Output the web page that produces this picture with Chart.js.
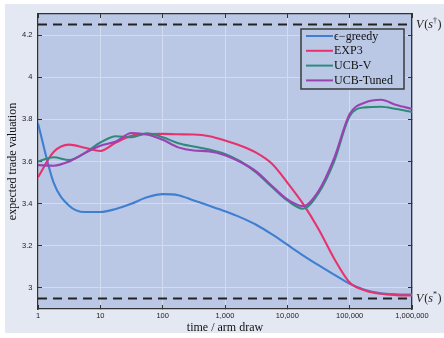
<!DOCTYPE html>
<html><head><meta charset="utf-8">
<script src="https://cdn.jsdelivr.net/npm/chart.js@4/dist/chart.umd.min.js"></script>
<style>html,body{margin:0;padding:0;background:#ffffff;overflow:hidden}#wrap{width:444px;height:338px}</style>
</head><body><div id="wrap"><canvas id="c" width="444" height="338"></canvas></div>
<script>
// ---- data ----
const drawTimes = [1, 1.78, 3.16, 5.62, 10, 17.8, 31.6, 56.2, 100, 178, 316, 562, 1000, 1778, 3162, 5623, 10000, 17783, 31623, 56234, 100000, 177828, 316228, 562341, 1000000];
const epsGreedy = [3.78, 3.50, 3.39, 3.36, 3.36, 3.375, 3.40, 3.43, 3.445, 3.44, 3.415, 3.39, 3.364, 3.335, 3.30, 3.255, 3.205, 3.155, 3.108, 3.063, 3.02, 2.99, 2.975, 2.97, 2.968];
const exp3      = [3.525, 3.645, 3.68, 3.665, 3.65, 3.69, 3.722, 3.73, 3.731, 3.729, 3.728, 3.72, 3.70, 3.675, 3.642, 3.59, 3.50, 3.40, 3.28, 3.14, 3.026, 2.988, 2.972, 2.966, 2.964];
const ucbV      = [3.60, 3.62, 3.607, 3.64, 3.69, 3.72, 3.715, 3.734, 3.715, 3.687, 3.671, 3.657, 3.636, 3.60, 3.548, 3.48, 3.415, 3.376, 3.45, 3.60, 3.815, 3.857, 3.86, 3.849, 3.835];
const ucbTuned  = [3.583, 3.58, 3.60, 3.64, 3.675, 3.695, 3.735, 3.728, 3.703, 3.667, 3.652, 3.648, 3.63, 3.597, 3.553, 3.485, 3.42, 3.388, 3.46, 3.615, 3.825, 3.88, 3.893, 3.868, 3.85];
const seriesNames = ['\u03F5\u2212greedy', 'EXP3', 'UCB-V', 'UCB-Tuned'];
const vDagger = 4.25;   // V(s†)
const vStar = 2.95;     // V(s*)
const xTicks = [1, 10, 100, 1000, 10000, 100000, 1000000];
const xTickLabels = ['1', '10', '100', '1,000', '10,000', '100,000', '1,000,000'];
const yTicks = [3, 3.2, 3.4, 3.6, 3.8, 4, 4.2];
const yTickLabels = ['3', '3.2', '3.4', '3.6', '3.8', '4', '4.2'];
const xTitle = 'time / arm draw';
const yTitle = 'expected trade valuation';

// ---- style ----
const colors = ['#3f7fd2', '#e6336e', '#2f8a7c', '#9b41b2'];
const panelBg = '#e3e8f3';
const plotBg = '#bac8e6';
const gridCol = '#d3dbee';
const axisCol = '#333333';
const serif = '"Liberation Serif", "Times New Roman", serif';
const sans = '"Liberation Sans", Arial, sans-serif';

const toPts = arr => arr.map((y, i) => ({x: drawTimes[i], y}));
const series = [epsGreedy, exp3, ucbV, ucbTuned];
const datasets = series.map((s, i) => ({
  label: seriesNames[i], data: toPts(s), borderColor: colors[i], backgroundColor: colors[i],
  borderWidth: 2.1, pointRadius: 0, cubicInterpolationMode: 'monotone', fill: false, order: 4 - i
}));
[vDagger, vStar].forEach(v => datasets.push({
  label: 'ref', data: [{x: xTicks[0], y: v}, {x: xTicks[xTicks.length - 1], y: v}],
  borderColor: '#222', borderWidth: 2, borderDash: [9, 6], pointRadius: 0, fill: false, order: 10
}));

const decor = {
  id: 'decor',
  beforeDraw(chart) {
    const {ctx, chartArea: a} = chart;
    ctx.save();
    ctx.fillStyle = panelBg;
    ctx.fillRect(5, 4, 439, 329);
    ctx.fillStyle = plotBg;
    ctx.fillRect(a.left, a.top, a.right - a.left, a.bottom - a.top);
    ctx.restore();
  },
  afterDraw(chart) {
    const {ctx, chartArea: a} = chart;
    const ys = chart.scales.y;
    ctx.save();
    // reference labels
    const drawV = (v, sup) => {
      const y = ys.getPixelForValue(v);
      let x = a.right + 4;
      ctx.fillStyle = '#222';
      ctx.textBaseline = 'middle';
      ctx.textAlign = 'left';
      ctx.font = 'italic 12px ' + serif;
      ctx.fillText('V', x, y); x += ctx.measureText('V').width + 1;
      ctx.font = '12px ' + serif;
      ctx.fillText('(', x, y); x += ctx.measureText('(').width;
      ctx.font = 'italic 12px ' + serif;
      ctx.fillText('s', x, y); x += ctx.measureText('s').width;
      ctx.font = '8px ' + serif;
      ctx.fillText(sup, x, y - 4); x += ctx.measureText(sup).width + 0.5;
      ctx.font = '12px ' + serif;
      ctx.fillText(')', x, y);
    };
    drawV(vDagger, '\u2020');
    drawV(vStar, '*');
    // legend
    const bx = 301, by = 29, bw = 103, bh = 60;
    ctx.fillStyle = plotBg;
    ctx.fillRect(bx, by, bw, bh);
    ctx.strokeStyle = '#3a3a3a';
    ctx.lineWidth = 1.5;
    ctx.strokeRect(bx, by, bw, bh);
    ctx.font = '12px ' + serif;
    ctx.textBaseline = 'middle';
    ctx.textAlign = 'left';
    for (let i = 0; i < 4; i++) {
      const y = by + 7 + i * 14.8;
      ctx.strokeStyle = colors[i];
      ctx.lineWidth = 2;
      ctx.beginPath(); ctx.moveTo(bx + 5, y); ctx.lineTo(bx + 32, y); ctx.stroke();
      ctx.fillStyle = '#111';
      ctx.fillText(seriesNames[i], bx + 33, y + 0.5);
    }
    ctx.restore();
  }
};

const setTicks = vals => scale => { scale.ticks = vals.map(v => ({value: v})); };

new Chart(document.getElementById('c'), {
  type: 'line',
  data: {datasets},
  plugins: [decor],
  options: {
    responsive: false, animation: false, devicePixelRatio: 1,
    layout: {padding: {left: 0, right: 32, top: 13, bottom: 0}},
    plugins: {legend: {display: false}, tooltip: {enabled: false}},
    scales: {
      x: {
        type: 'logarithmic', position: 'bottom', min: 1, max: 1000000,
        afterBuildTicks: setTicks(xTicks),
        afterFit: s => { s.height = 29; },
        grid: {color: gridCol, lineWidth: 1, tickColor: axisCol, tickLength: -4, tickWidth: 1},
        border: {display: true, color: axisCol, width: 1.3},
        ticks: {autoSkip: false, maxRotation: 0, padding: 6.5, color: '#222',
          font: {family: sans, size: 7.5}, callback: (v, i) => xTickLabels[i]},
        title: {display: true, text: xTitle, color: '#111', font: {family: serif, size: 12}, padding: {top: 0, bottom: 3}}
      },
      x2: {
        type: 'logarithmic', position: 'top', min: 1, max: 1000000,
        afterBuildTicks: setTicks(xTicks),
        afterFit: s => { s.height = 0; },
        grid: {drawOnChartArea: false, tickColor: axisCol, tickLength: -4},
        border: {display: true, color: axisCol, width: 1.3},
        ticks: {display: false}
      },
      y: {
        type: 'linear', position: 'left', min: 2.9, max: 4.3,
        afterBuildTicks: setTicks(yTicks),
        afterFit: s => { s.width = 38; },
        grid: {color: gridCol, lineWidth: 1, tickColor: axisCol, tickLength: -4},
        border: {display: true, color: axisCol, width: 1.3},
        ticks: {padding: 9.5, color: '#222', font: {family: sans, size: 7.5}, callback: (v, i) => yTickLabels[i]},
        title: {display: true, text: yTitle, color: '#111', font: {family: serif, size: 12}, padding: {top: 6, bottom: 0}}
      },
      y2: {
        type: 'linear', position: 'right', min: 2.9, max: 4.3,
        afterBuildTicks: setTicks(yTicks),
        afterFit: s => { s.width = 0; },
        grid: {drawOnChartArea: false, tickColor: axisCol, tickLength: -4},
        border: {display: true, color: axisCol, width: 1.3},
        ticks: {display: false}
      }
    }
  }
});
</script></body></html>
